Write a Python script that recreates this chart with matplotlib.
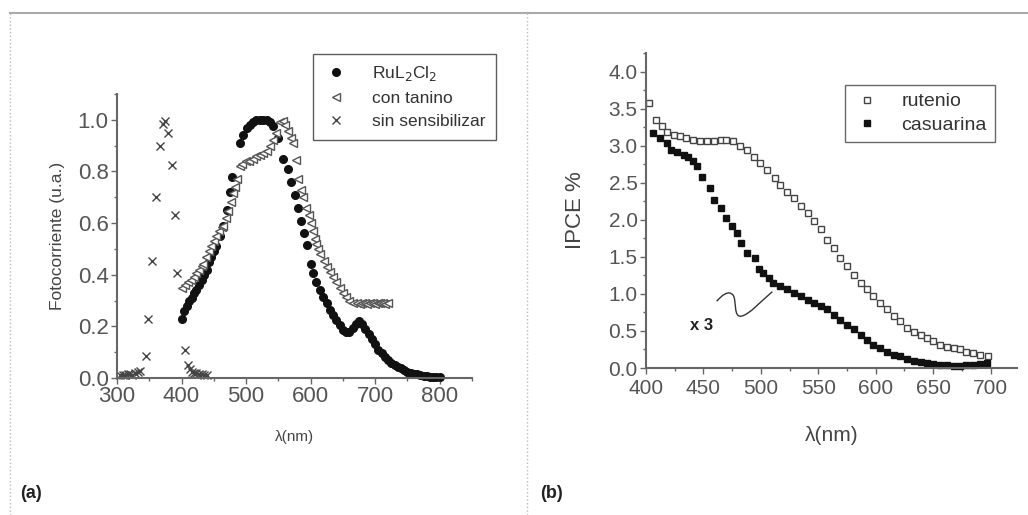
import numpy as np
import matplotlib
matplotlib.use("Agg")
import matplotlib.pyplot as plt
from matplotlib.lines import Line2D
from matplotlib.path import Path
from matplotlib.patches import PathPatch
from matplotlib.ticker import MultipleLocator

plt.rcParams['font.family'] = ['Liberation Sans', 'DejaVu Sans']

# panel (a): photocurrent, normalised
ru_x = [400, 404, 408, 412, 416, 420, 423, 427, 431, 435, 439, 443, 446, 450, 454, 459,
        465, 470, 475, 478, 490, 496, 501, 506, 511, 516, 521, 527, 532, 537, 542, 550,
        557, 565, 570, 576, 580, 585, 590, 595, 600, 604, 609, 614, 619, 625, 630, 635,
        640, 645, 650, 655, 660, 665, 670, 675, 680, 685, 690, 695, 700, 705, 710, 715,
        720, 725, 730, 735, 740, 745, 750, 755, 760, 765, 770, 775, 780, 785, 790, 795, 800]
ru_y = [0.23, 0.26, 0.28, 0.30, 0.31, 0.33, 0.34, 0.36, 0.38, 0.40, 0.42, 0.45, 0.47, 0.49,
        0.51, 0.55, 0.59, 0.65, 0.72, 0.78, 0.91, 0.94, 0.97, 0.98, 0.99, 1.00, 1.00, 1.00,
        1.00, 0.99, 0.975, 0.93, 0.85, 0.81, 0.76, 0.71, 0.66, 0.61, 0.56, 0.515, 0.44, 0.405,
        0.37, 0.34, 0.315, 0.29, 0.265, 0.245, 0.225, 0.205, 0.186, 0.178, 0.18, 0.195, 0.21,
        0.222, 0.21, 0.19, 0.17, 0.15, 0.13, 0.11, 0.095, 0.08, 0.07, 0.06, 0.05, 0.043, 0.037,
        0.03, 0.025, 0.02, 0.017, 0.014, 0.011, 0.009, 0.007, 0.005, 0.004, 0.003, 0.003]

tan_x = [400, 405, 410, 415, 419, 423, 427, 431, 434, 438, 442, 446, 450, 454, 458, 462,
         465, 469, 472, 476, 480, 483, 486, 490, 494, 500, 505, 510, 516, 521, 527, 532,
         537, 542, 547, 552, 557, 561, 565, 569, 573, 578, 581, 585, 588, 593, 598, 601,
         604, 607, 609, 612, 614, 620, 625, 630, 635, 640, 645, 650, 655, 660, 666, 672,
         676, 680, 684, 688, 692, 696, 700, 704, 708, 712, 716, 720]
tan_y = [0.35, 0.36, 0.37, 0.38, 0.39, 0.405, 0.42, 0.435, 0.44, 0.47, 0.49, 0.51, 0.53,
         0.55, 0.57, 0.585, 0.59, 0.62, 0.645, 0.68, 0.716, 0.74, 0.77, 0.82, 0.83, 0.84,
         0.84, 0.85, 0.86, 0.865, 0.87, 0.88, 0.90, 0.92, 0.95, 0.99, 0.995, 0.98, 0.955,
         0.93, 0.91, 0.845, 0.77, 0.73, 0.70, 0.66, 0.63, 0.60, 0.57, 0.54, 0.52, 0.50, 0.48,
         0.455, 0.43, 0.41, 0.39, 0.37, 0.35, 0.33, 0.315, 0.30, 0.29, 0.29, 0.285, 0.29,
         0.29, 0.285, 0.29, 0.29, 0.285, 0.29, 0.29, 0.29, 0.285, 0.29]

sin_x = [305, 309, 313, 317, 320, 324, 328, 332, 336, 345, 348, 355, 361, 366, 372, 374,
         379, 386, 390, 393, 405, 410, 413, 416, 420, 423, 427, 431, 435, 439]
sin_y = [0.012, 0.01, 0.012, 0.015, 0.014, 0.013, 0.02, 0.022, 0.028, 0.085, 0.23, 0.455,
         0.70, 0.90, 0.985, 0.995, 0.95, 0.825, 0.63, 0.405, 0.11, 0.05, 0.035, 0.025, 0.02,
         0.018, 0.016, 0.015, 0.012, 0.01]

# panel (b): IPCE
rut_x = [403, 409, 414, 418, 424, 430, 435, 441, 447, 453, 459, 465, 470, 476, 482, 488,
         494, 499, 505, 512, 517, 523, 529, 535, 541, 546, 552, 558, 564, 569, 575, 581,
         587, 592, 598, 604, 610, 616, 621, 627, 633, 639, 645, 650, 656, 662, 668, 673,
         679, 685, 691, 698]
rut_y = [3.58, 3.35, 3.26, 3.19, 3.15, 3.13, 3.10, 3.08, 3.06, 3.06, 3.06, 3.07, 3.08, 3.06,
         2.99, 2.94, 2.85, 2.76, 2.67, 2.56, 2.47, 2.38, 2.29, 2.18, 2.09, 1.98, 1.87, 1.73,
         1.62, 1.48, 1.37, 1.26, 1.15, 1.06, 0.97, 0.88, 0.79, 0.70, 0.63, 0.54, 0.49, 0.45,
         0.40, 0.36, 0.31, 0.29, 0.27, 0.25, 0.22, 0.20, 0.18, 0.16]

cas_x = [406, 412, 418, 422, 427, 433, 437, 441, 444, 449, 456, 459, 465, 470, 475, 479,
         483, 488, 495, 498, 502, 507, 511, 517, 523, 529, 535, 541, 546, 552, 558, 564,
         569, 575, 581, 587, 592, 598, 604, 610, 616, 621, 627, 633, 639, 645, 650, 656,
         662, 668, 673, 679, 685, 691, 697]
cas_y = [3.17, 3.10, 3.03, 2.94, 2.92, 2.88, 2.85, 2.79, 2.72, 2.58, 2.43, 2.27, 2.16, 2.02,
         1.91, 1.82, 1.69, 1.55, 1.48, 1.33, 1.28, 1.21, 1.15, 1.10, 1.06, 1.01, 0.97, 0.92,
         0.88, 0.83, 0.79, 0.72, 0.65, 0.58, 0.52, 0.45, 0.38, 0.31, 0.27, 0.22, 0.18, 0.16,
         0.12, 0.10, 0.08, 0.07, 0.05, 0.045, 0.035, 0.03, 0.03, 0.035, 0.045, 0.05, 0.07]

tick_col = '#555555'

fig = plt.figure(figsize=(10.28, 5.15), dpi=100)

# frame lines of the original figure
fig.add_artist(Line2D([10/1028, 1], [1 - 13/515, 1 - 13/515], color='#aaaaaa', lw=1.5))
fig.add_artist(Line2D([10/1028, 10/1028], [0, 1 - 13/515], color='#bbbbbb', lw=1, ls=':'))
fig.add_artist(Line2D([527/1028, 527/1028], [0, 1 - 13/515], color='#bbbbbb', lw=1, ls=':'))


def style_axes(ax, size):
    for s in ['top', 'right']:
        ax.spines[s].set_visible(False)
    for s in ['left', 'bottom']:
        ax.spines[s].set_color('#666666')
        ax.spines[s].set_linewidth(1.5)
    ax.tick_params(which='major', direction='out', length=4, width=1, color='#666666',
                   labelsize=size, labelcolor=tick_col, pad=2)
    ax.tick_params(which='minor', direction='out', length=2, width=1, color='#666666')


# ---- panel (a)
ax1 = fig.add_axes([0.1138, 0.266, 0.3453, 0.5515])
ax1.plot(ru_x, ru_y, 'o', ms=5.5, color='#111111', mec='#111111', label='RuL$_2$Cl$_2$',
         clip_on=False)
ax1.plot(tan_x, tan_y, '<', ms=5.5, mfc='white', mec='#555555', mew=1, label='con tanino',
         clip_on=False)
ax1.plot(sin_x, sin_y, 'x', ms=5.5, color='#444444', mew=1, label='sin sensibilizar',
         clip_on=False)
ax1.set_xlim(300, 850)
ax1.set_ylim(0, 1.1)
ax1.set_xticks([300, 400, 500, 600, 700, 800])
ax1.set_yticks([0.0, 0.2, 0.4, 0.6, 0.8, 1.0])
ax1.xaxis.set_minor_locator(MultipleLocator(50))
ax1.yaxis.set_minor_locator(MultipleLocator(0.1))
ax1.yaxis.set_major_formatter(plt.FuncFormatter(lambda v, p: f'{v:.1f}'))
style_axes(ax1, 16)
ax1.set_ylabel('Fotocorriente (u.a.)', fontsize=12.5, color='#444444', labelpad=9)
ax1.set_xlabel('λ(nm)', fontsize=11, color='#444444', labelpad=16)

fig.legend(handles=ax1.get_lines(), loc='upper left',
           bbox_to_anchor=(313/1028, 1 - 54/515), bbox_transform=fig.transFigure,
           fontsize=12.5, frameon=True, fancybox=False, edgecolor='#333333',
           borderpad=0.6, labelspacing=0.45, handletextpad=1.3, handlelength=1.5,
           borderaxespad=0, labelcolor='#333333')

fig.text(20/1028, 1 - 493/515, '(a)', fontsize=13, fontweight='bold', va='center',
         color='#222222')

# ---- panel (b)
ax2 = fig.add_axes([0.6284, 0.2854, 0.3609, 0.6117])
ax2.plot(rut_x, rut_y, 's', ms=5, mfc='white', mec='#444444', mew=1, label='rutenio',
         clip_on=False)
ax2.plot(cas_x, cas_y, 's', ms=4.5, color='#111111', label='casuarina', clip_on=False)
ax2.set_xlim(400, 723)
ax2.set_ylim(0, 4.25)
ax2.set_xticks([400, 450, 500, 550, 600, 650, 700])
ax2.set_yticks([0.0, 0.5, 1.0, 1.5, 2.0, 2.5, 3.0, 3.5, 4.0])
ax2.xaxis.set_minor_locator(MultipleLocator(25))
ax2.yaxis.set_minor_locator(MultipleLocator(0.25))
ax2.yaxis.set_major_formatter(plt.FuncFormatter(lambda v, p: f'{v:.1f}'))
style_axes(ax2, 15)
ax2.tick_params(axis='x', which='major', pad=4)
ax2.set_ylabel('IPCE %', fontsize=16, color='#444444', labelpad=16)
ax2.set_xlabel('λ(nm)', fontsize=15, color='#444444', labelpad=20)

fig.legend(handles=ax2.get_lines(), loc='upper left',
           bbox_to_anchor=(845/1028, 1 - 85/515), bbox_transform=fig.transFigure,
           fontsize=14, frameon=True, fancybox=False, edgecolor='#444444',
           borderpad=0.4, labelspacing=0.3, handletextpad=1.0, handlelength=1.5,
           borderaxespad=0, labelcolor='#333333')

# "x 3" note with the wavy pointer
ax2.text(448, 0.58, 'x 3', fontsize=12, fontweight='bold', ha='center', va='center',
         color='#222222')
squiggle = Path([(461.5, 0.90), (466, 0.98), (472, 1.06), (476, 0.98),
                 (479, 0.90), (476, 0.68), (483, 0.70),
                 (490, 0.72), (500, 0.90), (510, 1.03)],
                [Path.MOVETO, Path.CURVE4, Path.CURVE4, Path.CURVE4,
                 Path.CURVE4, Path.CURVE4, Path.CURVE4,
                 Path.CURVE4, Path.CURVE4, Path.CURVE4])
ax2.add_patch(PathPatch(squiggle, fc='none', ec='#333333', lw=1))

fig.text(540/1028, 1 - 493/515, '(b)', fontsize=13, fontweight='bold', va='center',
         color='#222222')

fig.savefig('out.png', dpi=100)
